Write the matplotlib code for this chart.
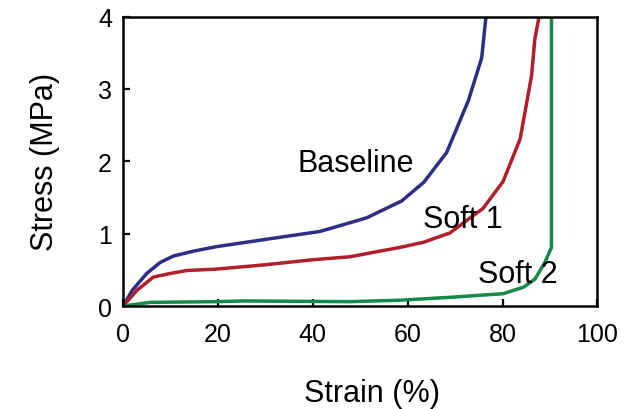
import matplotlib
matplotlib.use("Agg")
import matplotlib.pyplot as plt

plt.rcParams["font.family"] = ["Liberation Sans", "DejaVu Sans"]

# Courbes contrainte-deformation
baseline_strain = [0, 2, 5, 7.8, 10.6, 15, 19.7, 30, 41.5, 47.8, 51.4, 58.7, 63.4, 68.2, 72.8, 75.6, 76.5]
baseline_stress = [0, 0.22, 0.45, 0.60, 0.69, 0.76, 0.82, 0.92, 1.03, 1.15, 1.22, 1.45, 1.71, 2.12, 2.84, 3.43, 4.0]

soft1_strain = [0, 3, 6.4, 10, 13.4, 19.7, 30, 40.1, 47.8, 58.4, 63.3, 68.9, 75.9, 80.1, 83.7, 86.1, 86.8, 87.7]
soft1_stress = [0, 0.22, 0.40, 0.45, 0.49, 0.51, 0.57, 0.64, 0.68, 0.81, 0.88, 1.01, 1.35, 1.72, 2.31, 3.18, 3.69, 4.0]

soft2_strain = [0, 5.7, 19.7, 25.4, 47.8, 58.4, 68.9, 80.1, 84.4, 86.8, 88.9, 90.3, 90.3]
soft2_stress = [0, 0.05, 0.06, 0.07, 0.06, 0.08, 0.12, 0.17, 0.26, 0.37, 0.60, 0.81, 4.0]

x_ticks = [0, 20, 40, 60, 80, 100]
y_ticks = [0, 1, 2, 3, 4]


def main():
    fig = plt.figure(figsize=(6.32, 4.10), dpi=100)
    ax = fig.add_axes([0.1946, 0.2512, 0.7508, 0.7061])

    ax.plot(baseline_strain, baseline_stress, color="#2e2d83", lw=2.5)
    ax.plot(soft1_strain, soft1_stress, color="#b01f2b", lw=2.5)
    ax.plot(soft2_strain, soft2_stress, color="#13894a", lw=2.5)

    # Etiquettes des courbes
    ax.text(36.7, 1.865, "Baseline", fontsize=22, ha="left", va="baseline")
    ax.text(63.2, 1.09, "Soft 1", fontsize=22, ha="left", va="baseline")
    ax.text(74.8, 0.33, "Soft 2", fontsize=22, ha="left", va="baseline")

    ax.set_xlim(0, 100)
    ax.set_ylim(0, 4)
    ax.set_xticks(x_ticks)
    ax.set_yticks(y_ticks)
    ax.tick_params(axis="both", direction="in", length=5, width=1.6, labelsize=18)
    ax.tick_params(axis="x", pad=11.5)
    ax.tick_params(axis="y", pad=8)
    for spine in ax.spines.values():
        spine.set_linewidth(1.8)

    ax.set_xlabel("Strain (%)", fontsize=22)
    ax.set_ylabel("Stress (MPa)", fontsize=22)
    ax.xaxis.set_label_coords(0.524, -0.249)
    ax.yaxis.set_label_coords(-0.133, 0.5)

    fig.savefig("out.png", dpi=100)


if __name__ == "__main__":
    main()
